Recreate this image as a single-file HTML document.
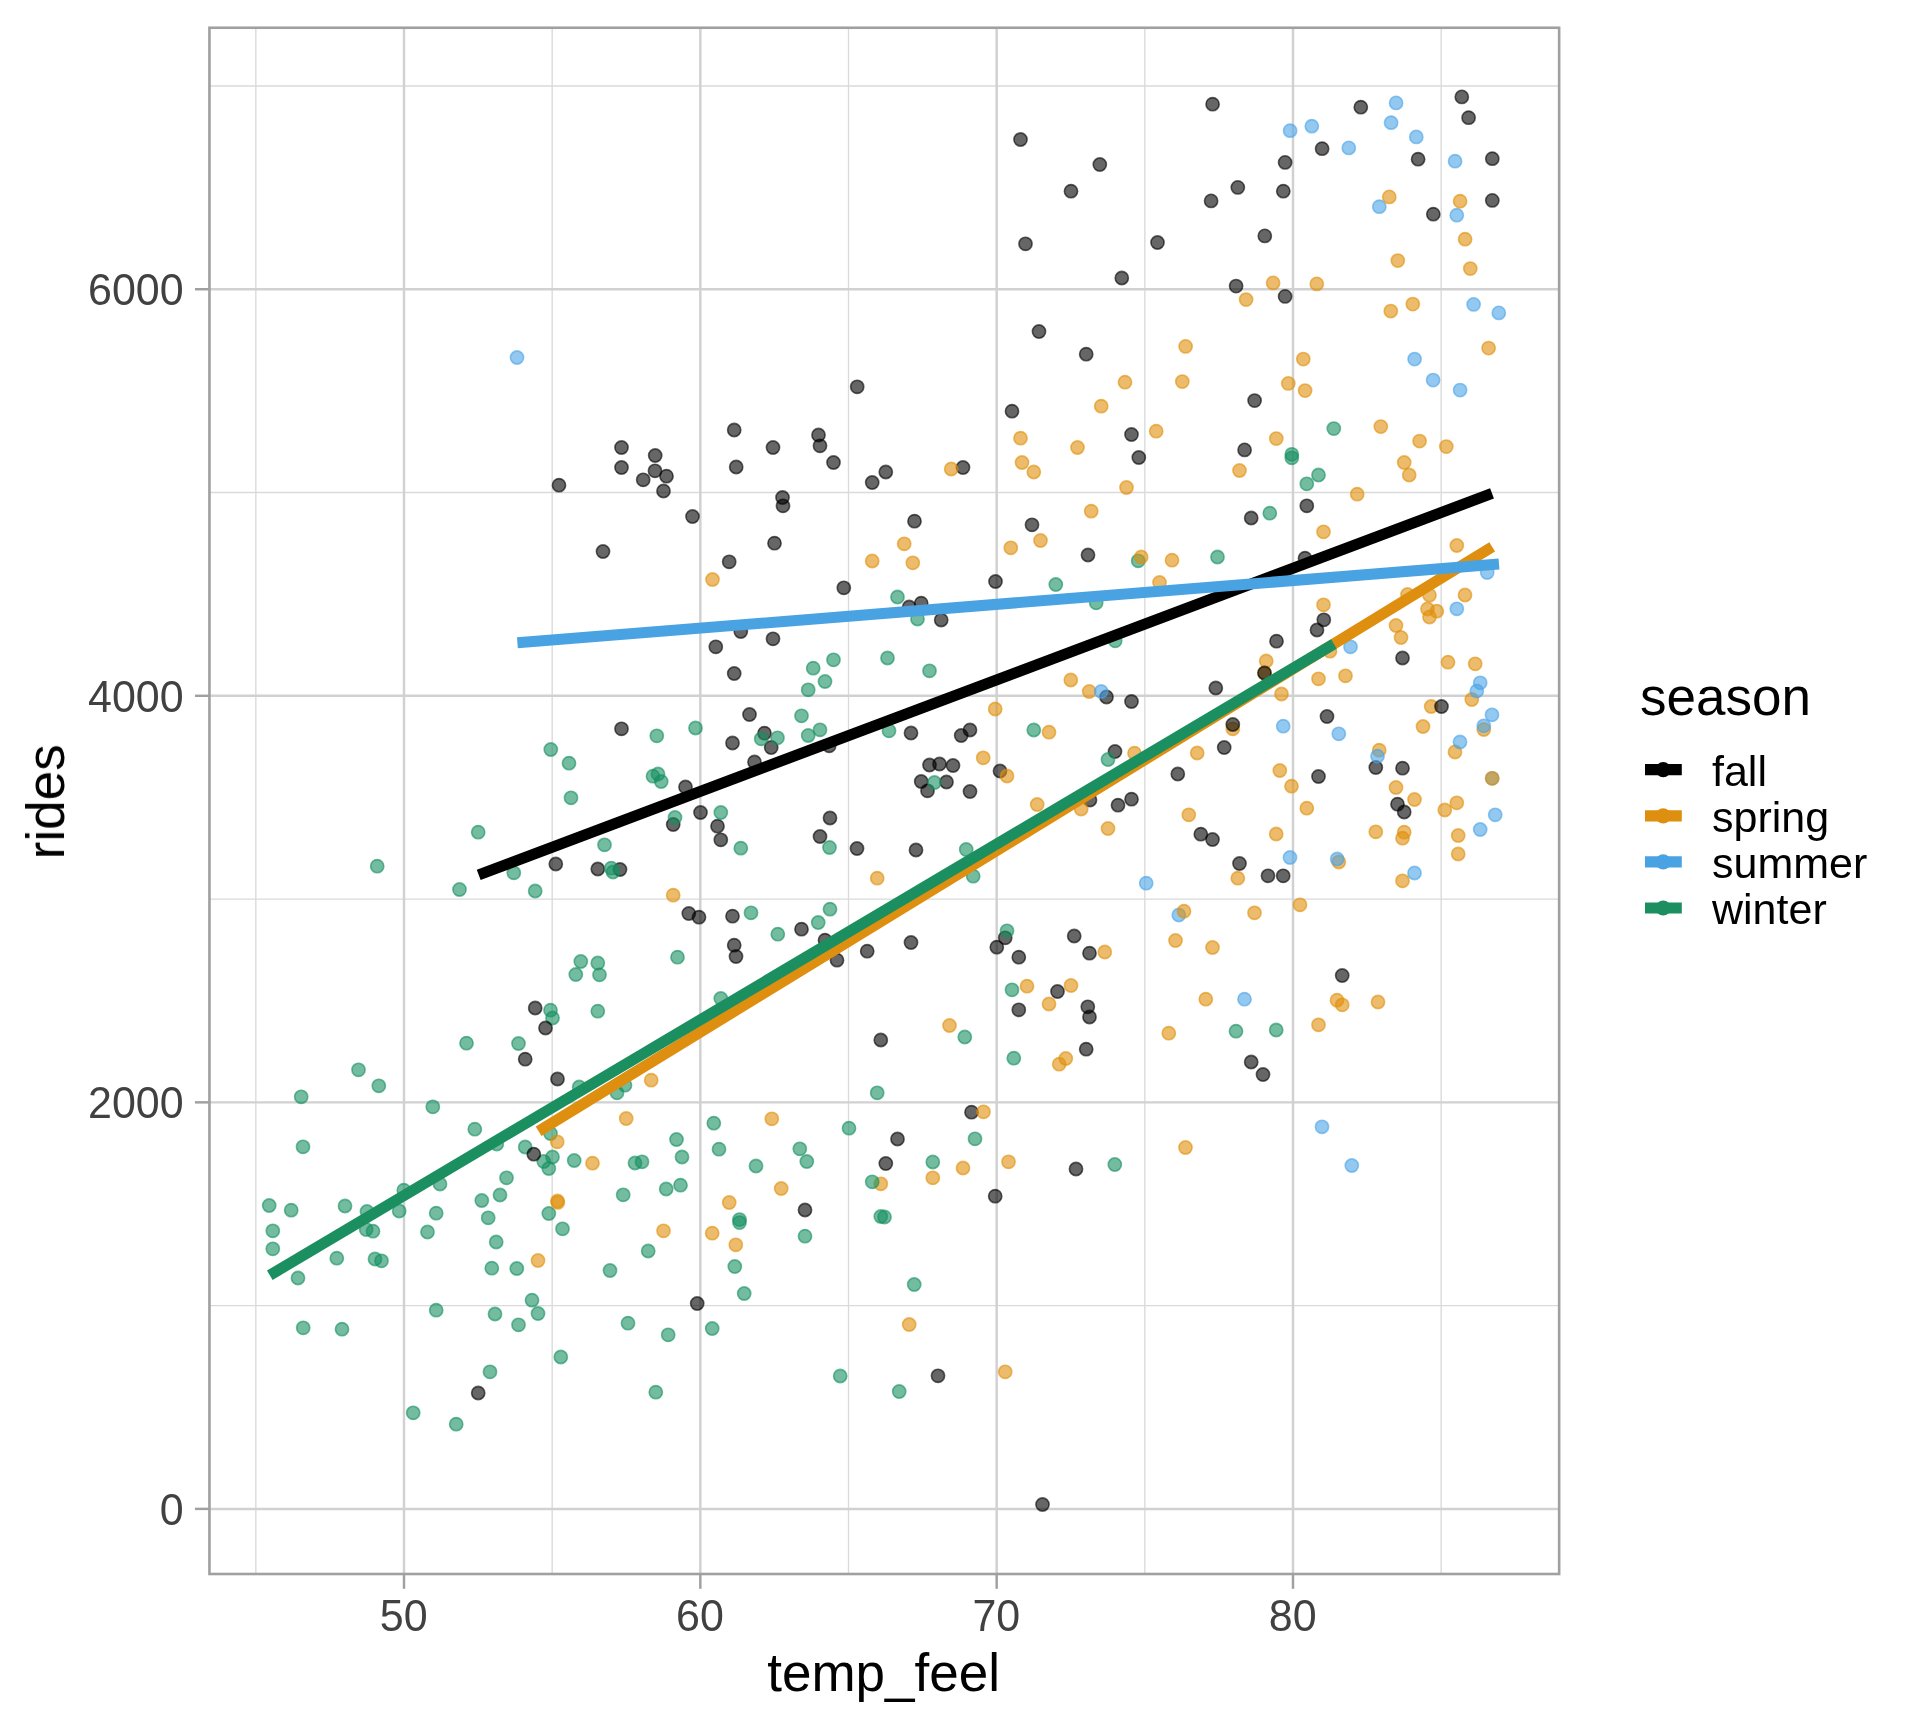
<!DOCTYPE html>
<html><head><meta charset="utf-8"><title>rides vs temp_feel</title>
<style>
html,body{margin:0;padding:0;background:#fff;}
body{width:1920px;height:1728px;overflow:hidden;font-family:"Liberation Sans",sans-serif;}
svg{display:block;position:absolute;left:0;top:0;}
text{font-family:"Liberation Sans",sans-serif;}
.ax{font-size:43px;fill:#414141;}
.ttl{font-size:53px;fill:#000;}
.lg{font-size:43px;fill:#000;}
.pk{fill:#000000;stroke:#000000;}
.po{fill:#E0900A;stroke:#E0900A;}
.pb{fill:#4BA3E6;stroke:#4BA3E6;}
.pg{fill:#169060;stroke:#169060;}
.pts circle{fill-opacity:.6;stroke-opacity:.6;stroke-width:1.6;}
</style></head><body>
<svg width="1920" height="1728" viewBox="0 0 1920 1728">
<rect x="0" y="0" width="1920" height="1728" fill="#ffffff"/>
<g stroke="#DADADA" stroke-width="1.35" fill="none">
<line x1="255.83" y1="27.75" x2="255.83" y2="1574.00"/>
<line x1="552.17" y1="27.75" x2="552.17" y2="1574.00"/>
<line x1="848.50" y1="27.75" x2="848.50" y2="1574.00"/>
<line x1="1144.83" y1="27.75" x2="1144.83" y2="1574.00"/>
<line x1="1441.17" y1="27.75" x2="1441.17" y2="1574.00"/>
<line x1="209.45" y1="1305.62" x2="1559.15" y2="1305.62"/>
<line x1="209.45" y1="899.08" x2="1559.15" y2="899.08"/>
<line x1="209.45" y1="492.53" x2="1559.15" y2="492.53"/>
<line x1="209.45" y1="85.98" x2="1559.15" y2="85.98"/>
</g>
<g stroke="#D1D1D1" stroke-width="2.45" fill="none">
<line x1="404.00" y1="27.75" x2="404.00" y2="1574.00"/>
<line x1="700.33" y1="27.75" x2="700.33" y2="1574.00"/>
<line x1="996.67" y1="27.75" x2="996.67" y2="1574.00"/>
<line x1="1293.00" y1="27.75" x2="1293.00" y2="1574.00"/>
<line x1="209.45" y1="1508.90" x2="1559.15" y2="1508.90"/>
<line x1="209.45" y1="1102.35" x2="1559.15" y2="1102.35"/>
<line x1="209.45" y1="695.80" x2="1559.15" y2="695.80"/>
<line x1="209.45" y1="289.25" x2="1559.15" y2="289.25"/>
</g>
<g class="pts">
<circle class="pb" cx="517.0" cy="357.5" r="6.6"/>
<circle class="pk" cx="621.5" cy="447.5" r="6.6"/>
<circle class="pk" cx="655.2" cy="455.5" r="6.6"/>
<circle class="pk" cx="621.5" cy="467.5" r="6.6"/>
<circle class="pk" cx="655.0" cy="470.8" r="6.6"/>
<circle class="pk" cx="666.5" cy="476.2" r="6.6"/>
<circle class="pk" cx="643.2" cy="479.8" r="6.6"/>
<circle class="pk" cx="559.0" cy="485.2" r="6.6"/>
<circle class="pk" cx="663.5" cy="491.0" r="6.6"/>
<circle class="pk" cx="603.0" cy="551.5" r="6.6"/>
<circle class="pk" cx="621.5" cy="728.8" r="6.6"/>
<circle class="pk" cx="1020.5" cy="139.5" r="6.6"/>
<circle class="pk" cx="1099.8" cy="164.5" r="6.6"/>
<circle class="pk" cx="1071.0" cy="191.2" r="6.6"/>
<circle class="pk" cx="1025.5" cy="243.8" r="6.6"/>
<circle class="pk" cx="1157.5" cy="242.5" r="6.6"/>
<circle class="pk" cx="1121.8" cy="278.0" r="6.6"/>
<circle class="pk" cx="1039.0" cy="331.5" r="6.6"/>
<circle class="pk" cx="1086.2" cy="354.2" r="6.6"/>
<circle class="pk" cx="857.2" cy="386.8" r="6.6"/>
<circle class="pk" cx="1012.0" cy="411.2" r="6.6"/>
<circle class="pk" cx="734.2" cy="430.0" r="6.6"/>
<circle class="pk" cx="818.5" cy="435.0" r="6.6"/>
<circle class="pk" cx="820.0" cy="445.8" r="6.6"/>
<circle class="pk" cx="773.0" cy="447.5" r="6.6"/>
<circle class="pk" cx="1131.5" cy="434.5" r="6.6"/>
<circle class="pk" cx="1138.8" cy="457.5" r="6.6"/>
<circle class="po" cx="1125.0" cy="382.2" r="6.6"/>
<circle class="po" cx="1101.2" cy="406.2" r="6.6"/>
<circle class="po" cx="1020.5" cy="438.2" r="6.6"/>
<circle class="po" cx="1156.2" cy="431.2" r="6.6"/>
<circle class="po" cx="1077.5" cy="447.5" r="6.6"/>
<circle class="pk" cx="1212.6" cy="104.2" r="6.6"/>
<circle class="pk" cx="1360.8" cy="107.2" r="6.6"/>
<circle class="pk" cx="1461.8" cy="96.9" r="6.6"/>
<circle class="pk" cx="1468.6" cy="117.7" r="6.6"/>
<circle class="pk" cx="1322.1" cy="148.7" r="6.6"/>
<circle class="pk" cx="1285.1" cy="162.4" r="6.6"/>
<circle class="pk" cx="1418.1" cy="159.2" r="6.6"/>
<circle class="pk" cx="1492.3" cy="158.7" r="6.6"/>
<circle class="pk" cx="1237.8" cy="187.4" r="6.6"/>
<circle class="pk" cx="1283.3" cy="191.2" r="6.6"/>
<circle class="pk" cx="1211.1" cy="200.9" r="6.6"/>
<circle class="pk" cx="1492.3" cy="200.4" r="6.6"/>
<circle class="pk" cx="1433.3" cy="214.2" r="6.6"/>
<circle class="pk" cx="1264.8" cy="235.9" r="6.6"/>
<circle class="pk" cx="1236.1" cy="286.1" r="6.6"/>
<circle class="pk" cx="1285.1" cy="296.4" r="6.6"/>
<circle class="pk" cx="1254.6" cy="400.6" r="6.6"/>
<circle class="pk" cx="1244.6" cy="449.9" r="6.6"/>
<circle class="pb" cx="1396.1" cy="102.9" r="6.6"/>
<circle class="pb" cx="1391.1" cy="122.7" r="6.6"/>
<circle class="pb" cx="1311.8" cy="126.2" r="6.6"/>
<circle class="pb" cx="1290.1" cy="130.7" r="6.6"/>
<circle class="pb" cx="1416.3" cy="136.9" r="6.6"/>
<circle class="pb" cx="1348.8" cy="147.9" r="6.6"/>
<circle class="pb" cx="1455.1" cy="161.2" r="6.6"/>
<circle class="pb" cx="1379.3" cy="206.7" r="6.6"/>
<circle class="pb" cx="1456.8" cy="215.2" r="6.6"/>
<circle class="pb" cx="1473.6" cy="304.4" r="6.6"/>
<circle class="pb" cx="1498.8" cy="312.9" r="6.6"/>
<circle class="pb" cx="1414.6" cy="359.1" r="6.6"/>
<circle class="pb" cx="1433.1" cy="380.1" r="6.6"/>
<circle class="pb" cx="1460.1" cy="390.1" r="6.6"/>
<circle class="po" cx="1389.3" cy="196.9" r="6.6"/>
<circle class="po" cx="1460.1" cy="201.2" r="6.6"/>
<circle class="po" cx="1465.1" cy="239.2" r="6.6"/>
<circle class="po" cx="1397.8" cy="260.6" r="6.6"/>
<circle class="po" cx="1470.3" cy="268.6" r="6.6"/>
<circle class="po" cx="1273.1" cy="282.9" r="6.6"/>
<circle class="po" cx="1316.8" cy="283.9" r="6.6"/>
<circle class="po" cx="1246.1" cy="299.6" r="6.6"/>
<circle class="po" cx="1412.8" cy="304.1" r="6.6"/>
<circle class="po" cx="1390.8" cy="311.1" r="6.6"/>
<circle class="po" cx="1185.6" cy="346.4" r="6.6"/>
<circle class="po" cx="1488.6" cy="348.1" r="6.6"/>
<circle class="po" cx="1303.3" cy="359.1" r="6.6"/>
<circle class="po" cx="1182.3" cy="381.6" r="6.6"/>
<circle class="po" cx="1288.3" cy="383.4" r="6.6"/>
<circle class="po" cx="1305.1" cy="390.6" r="6.6"/>
<circle class="po" cx="1380.8" cy="426.6" r="6.6"/>
<circle class="po" cx="1276.3" cy="438.6" r="6.6"/>
<circle class="po" cx="1419.6" cy="441.1" r="6.6"/>
<circle class="po" cx="1446.3" cy="446.6" r="6.6"/>
<circle class="pg" cx="1333.8" cy="428.6" r="6.6"/>
<circle class="pg" cx="1291.8" cy="454.3" r="6.6"/>
<circle class="pg" cx="1291.8" cy="457.8" r="6.6"/>
<circle class="pk" cx="673.2" cy="824.5" r="6.6"/>
<circle class="pk" cx="555.8" cy="864.0" r="6.6"/>
<circle class="pk" cx="597.8" cy="869.0" r="6.6"/>
<circle class="pk" cx="620.0" cy="869.5" r="6.6"/>
<circle class="pg" cx="656.8" cy="735.8" r="6.6"/>
<circle class="pg" cx="550.8" cy="749.5" r="6.6"/>
<circle class="pg" cx="569.0" cy="763.2" r="6.6"/>
<circle class="pg" cx="653.0" cy="776.2" r="6.6"/>
<circle class="pg" cx="658.0" cy="774.0" r="6.6"/>
<circle class="pg" cx="661.2" cy="781.5" r="6.6"/>
<circle class="pg" cx="571.0" cy="797.8" r="6.6"/>
<circle class="pg" cx="675.0" cy="817.5" r="6.6"/>
<circle class="pg" cx="478.2" cy="832.2" r="6.6"/>
<circle class="pg" cx="604.5" cy="844.8" r="6.6"/>
<circle class="pg" cx="377.2" cy="866.2" r="6.6"/>
<circle class="pg" cx="513.8" cy="872.8" r="6.6"/>
<circle class="pg" cx="611.2" cy="868.2" r="6.6"/>
<circle class="pg" cx="613.0" cy="872.0" r="6.6"/>
<circle class="pk" cx="736.2" cy="467.0" r="6.6"/>
<circle class="pk" cx="833.5" cy="462.5" r="6.6"/>
<circle class="pk" cx="885.8" cy="472.0" r="6.6"/>
<circle class="pk" cx="872.2" cy="482.5" r="6.6"/>
<circle class="pk" cx="963.0" cy="467.5" r="6.6"/>
<circle class="pk" cx="782.5" cy="497.5" r="6.6"/>
<circle class="pk" cx="783.0" cy="505.8" r="6.6"/>
<circle class="pk" cx="692.5" cy="516.5" r="6.6"/>
<circle class="pk" cx="914.5" cy="521.2" r="6.6"/>
<circle class="pk" cx="1032.0" cy="524.8" r="6.6"/>
<circle class="pk" cx="774.5" cy="543.2" r="6.6"/>
<circle class="pk" cx="1088.0" cy="555.0" r="6.6"/>
<circle class="pk" cx="729.2" cy="561.8" r="6.6"/>
<circle class="pk" cx="995.5" cy="581.5" r="6.6"/>
<circle class="pk" cx="843.8" cy="587.8" r="6.6"/>
<circle class="pk" cx="909.2" cy="607.0" r="6.6"/>
<circle class="pk" cx="921.2" cy="603.2" r="6.6"/>
<circle class="pk" cx="941.2" cy="620.0" r="6.6"/>
<circle class="pk" cx="740.8" cy="631.5" r="6.6"/>
<circle class="pk" cx="773.0" cy="638.8" r="6.6"/>
<circle class="pk" cx="715.8" cy="646.8" r="6.6"/>
<circle class="pk" cx="734.2" cy="673.5" r="6.6"/>
<circle class="pk" cx="749.5" cy="714.5" r="6.6"/>
<circle class="pk" cx="764.5" cy="733.2" r="6.6"/>
<circle class="pk" cx="732.5" cy="743.0" r="6.6"/>
<circle class="pk" cx="771.2" cy="747.5" r="6.6"/>
<circle class="pk" cx="829.2" cy="745.8" r="6.6"/>
<circle class="pk" cx="754.5" cy="762.0" r="6.6"/>
<circle class="pk" cx="911.0" cy="733.0" r="6.6"/>
<circle class="pk" cx="961.2" cy="735.5" r="6.6"/>
<circle class="pk" cx="970.0" cy="730.0" r="6.6"/>
<circle class="pk" cx="1106.5" cy="697.0" r="6.6"/>
<circle class="pk" cx="1131.5" cy="701.5" r="6.6"/>
<circle class="pk" cx="929.5" cy="765.0" r="6.6"/>
<circle class="pk" cx="939.5" cy="764.0" r="6.6"/>
<circle class="pk" cx="953.0" cy="765.5" r="6.6"/>
<circle class="pk" cx="1000.0" cy="771.0" r="6.6"/>
<circle class="pk" cx="921.2" cy="781.5" r="6.6"/>
<circle class="pk" cx="946.5" cy="782.0" r="6.6"/>
<circle class="pk" cx="927.5" cy="790.8" r="6.6"/>
<circle class="pk" cx="970.0" cy="791.5" r="6.6"/>
<circle class="pk" cx="1115.0" cy="751.5" r="6.6"/>
<circle class="pk" cx="1090.0" cy="800.0" r="6.6"/>
<circle class="pk" cx="1118.0" cy="805.2" r="6.6"/>
<circle class="pk" cx="1131.5" cy="799.2" r="6.6"/>
<circle class="pk" cx="685.5" cy="787.0" r="6.6"/>
<circle class="pk" cx="700.5" cy="812.5" r="6.6"/>
<circle class="pk" cx="717.5" cy="826.2" r="6.6"/>
<circle class="pk" cx="720.8" cy="839.8" r="6.6"/>
<circle class="pk" cx="830.0" cy="818.0" r="6.6"/>
<circle class="pk" cx="820.0" cy="836.5" r="6.6"/>
<circle class="pk" cx="857.0" cy="848.5" r="6.6"/>
<circle class="pk" cx="916.0" cy="850.0" r="6.6"/>
<circle class="po" cx="951.2" cy="469.0" r="6.6"/>
<circle class="po" cx="1022.0" cy="462.5" r="6.6"/>
<circle class="po" cx="1033.8" cy="472.0" r="6.6"/>
<circle class="po" cx="1126.5" cy="487.5" r="6.6"/>
<circle class="po" cx="1091.2" cy="511.2" r="6.6"/>
<circle class="po" cx="904.2" cy="543.8" r="6.6"/>
<circle class="po" cx="1040.5" cy="540.5" r="6.6"/>
<circle class="po" cx="1010.8" cy="547.8" r="6.6"/>
<circle class="po" cx="872.2" cy="561.0" r="6.6"/>
<circle class="po" cx="912.8" cy="562.8" r="6.6"/>
<circle class="po" cx="712.5" cy="579.5" r="6.6"/>
<circle class="po" cx="1159.5" cy="582.5" r="6.6"/>
<circle class="po" cx="1070.8" cy="680.0" r="6.6"/>
<circle class="po" cx="1089.2" cy="691.5" r="6.6"/>
<circle class="po" cx="995.2" cy="709.0" r="6.6"/>
<circle class="po" cx="1049.0" cy="732.2" r="6.6"/>
<circle class="po" cx="983.2" cy="757.8" r="6.6"/>
<circle class="po" cx="1007.0" cy="776.0" r="6.6"/>
<circle class="po" cx="1134.5" cy="753.2" r="6.6"/>
<circle class="po" cx="1037.2" cy="804.5" r="6.6"/>
<circle class="po" cx="1081.2" cy="809.0" r="6.6"/>
<circle class="po" cx="1108.0" cy="828.5" r="6.6"/>
<circle class="po" cx="877.2" cy="878.2" r="6.6"/>
<circle class="pg" cx="1138.2" cy="560.8" r="6.6"/>
<circle class="po" cx="1141.2" cy="557.0" r="6.6"/>
<circle class="pg" cx="1055.8" cy="584.5" r="6.6"/>
<circle class="pg" cx="897.5" cy="597.0" r="6.6"/>
<circle class="pg" cx="1096.2" cy="602.8" r="6.6"/>
<circle class="pg" cx="917.5" cy="619.0" r="6.6"/>
<circle class="pg" cx="1115.2" cy="640.8" r="6.6"/>
<circle class="pg" cx="833.5" cy="659.8" r="6.6"/>
<circle class="pg" cx="813.2" cy="668.2" r="6.6"/>
<circle class="pg" cx="887.5" cy="658.0" r="6.6"/>
<circle class="pg" cx="929.5" cy="670.8" r="6.6"/>
<circle class="pg" cx="825.0" cy="681.5" r="6.6"/>
<circle class="pg" cx="808.2" cy="689.8" r="6.6"/>
<circle class="pg" cx="801.5" cy="715.8" r="6.6"/>
<circle class="pg" cx="695.5" cy="728.0" r="6.6"/>
<circle class="pg" cx="820.0" cy="729.8" r="6.6"/>
<circle class="pg" cx="808.2" cy="735.5" r="6.6"/>
<circle class="pg" cx="777.5" cy="737.8" r="6.6"/>
<circle class="pg" cx="761.2" cy="738.8" r="6.6"/>
<circle class="pg" cx="889.0" cy="730.8" r="6.6"/>
<circle class="pg" cx="1033.8" cy="730.0" r="6.6"/>
<circle class="pg" cx="1108.0" cy="759.5" r="6.6"/>
<circle class="pg" cx="934.5" cy="782.5" r="6.6"/>
<circle class="pg" cx="720.8" cy="812.5" r="6.6"/>
<circle class="pg" cx="740.8" cy="848.2" r="6.6"/>
<circle class="pg" cx="829.5" cy="847.5" r="6.6"/>
<circle class="pg" cx="966.2" cy="849.5" r="6.6"/>
<circle class="pg" cx="973.2" cy="876.2" r="6.6"/>
<circle class="pb" cx="1101.2" cy="691.5" r="6.6"/>
<circle class="pb" cx="1146.2" cy="883.2" r="6.6"/>
<circle class="po" cx="1239.5" cy="470.5" r="6.6"/>
<circle class="po" cx="1404.2" cy="462.5" r="6.6"/>
<circle class="po" cx="1409.2" cy="475.0" r="6.6"/>
<circle class="po" cx="1357.2" cy="494.2" r="6.6"/>
<circle class="po" cx="1323.5" cy="531.8" r="6.6"/>
<circle class="po" cx="1456.8" cy="545.5" r="6.6"/>
<circle class="po" cx="1172.0" cy="560.2" r="6.6"/>
<circle class="po" cx="1323.5" cy="604.8" r="6.6"/>
<circle class="po" cx="1407.5" cy="594.5" r="6.6"/>
<circle class="po" cx="1429.5" cy="595.2" r="6.6"/>
<circle class="po" cx="1465.0" cy="595.0" r="6.6"/>
<circle class="po" cx="1427.5" cy="609.0" r="6.6"/>
<circle class="po" cx="1436.8" cy="611.2" r="6.6"/>
<circle class="po" cx="1429.5" cy="617.0" r="6.6"/>
<circle class="po" cx="1396.0" cy="625.5" r="6.6"/>
<circle class="po" cx="1401.0" cy="637.5" r="6.6"/>
<circle class="po" cx="1330.0" cy="651.2" r="6.6"/>
<circle class="po" cx="1266.2" cy="661.0" r="6.6"/>
<circle class="po" cx="1448.0" cy="662.2" r="6.6"/>
<circle class="po" cx="1475.2" cy="663.8" r="6.6"/>
<circle class="po" cx="1318.5" cy="678.8" r="6.6"/>
<circle class="po" cx="1345.5" cy="675.8" r="6.6"/>
<circle class="po" cx="1281.5" cy="694.0" r="6.6"/>
<circle class="po" cx="1471.8" cy="699.5" r="6.6"/>
<circle class="po" cx="1431.2" cy="706.5" r="6.6"/>
<circle class="po" cx="1423.0" cy="726.5" r="6.6"/>
<circle class="po" cx="1232.8" cy="728.8" r="6.6"/>
<circle class="po" cx="1483.8" cy="729.5" r="6.6"/>
<circle class="po" cx="1197.2" cy="753.0" r="6.6"/>
<circle class="po" cx="1379.2" cy="750.2" r="6.6"/>
<circle class="po" cx="1455.0" cy="752.0" r="6.6"/>
<circle class="po" cx="1279.8" cy="770.5" r="6.6"/>
<circle class="pb" cx="1492.2" cy="778.3" r="6.6"/>
<circle class="po" cx="1492.2" cy="778.3" r="6.6"/>
<circle class="po" cx="1291.5" cy="786.2" r="6.6"/>
<circle class="po" cx="1396.0" cy="787.5" r="6.6"/>
<circle class="po" cx="1414.5" cy="799.5" r="6.6"/>
<circle class="po" cx="1456.8" cy="802.8" r="6.6"/>
<circle class="po" cx="1306.8" cy="808.2" r="6.6"/>
<circle class="po" cx="1444.8" cy="810.0" r="6.6"/>
<circle class="po" cx="1188.8" cy="814.8" r="6.6"/>
<circle class="po" cx="1276.2" cy="834.0" r="6.6"/>
<circle class="po" cx="1375.8" cy="831.8" r="6.6"/>
<circle class="po" cx="1404.2" cy="832.2" r="6.6"/>
<circle class="po" cx="1402.5" cy="838.2" r="6.6"/>
<circle class="po" cx="1458.2" cy="835.5" r="6.6"/>
<circle class="po" cx="1458.2" cy="854.0" r="6.6"/>
<circle class="po" cx="1338.8" cy="862.0" r="6.6"/>
<circle class="po" cx="1237.8" cy="878.2" r="6.6"/>
<circle class="po" cx="1402.5" cy="880.8" r="6.6"/>
<circle class="po" cx="1264.5" cy="673.0" r="6.6"/>
<circle class="pk" cx="1306.8" cy="505.8" r="6.6"/>
<circle class="pk" cx="1251.2" cy="518.0" r="6.6"/>
<circle class="pk" cx="1305.0" cy="558.2" r="6.6"/>
<circle class="pk" cx="1323.8" cy="619.8" r="6.6"/>
<circle class="pk" cx="1317.0" cy="630.0" r="6.6"/>
<circle class="pk" cx="1276.5" cy="641.2" r="6.6"/>
<circle class="pk" cx="1402.5" cy="658.0" r="6.6"/>
<circle class="pk" cx="1264.5" cy="673.0" r="6.6"/>
<circle class="pk" cx="1215.8" cy="688.0" r="6.6"/>
<circle class="pk" cx="1327.0" cy="716.5" r="6.6"/>
<circle class="pk" cx="1441.5" cy="706.5" r="6.6"/>
<circle class="pk" cx="1232.8" cy="724.5" r="6.6"/>
<circle class="pk" cx="1224.2" cy="747.5" r="6.6"/>
<circle class="pk" cx="1177.8" cy="774.0" r="6.6"/>
<circle class="pk" cx="1375.8" cy="767.5" r="6.6"/>
<circle class="pk" cx="1402.5" cy="768.2" r="6.6"/>
<circle class="pk" cx="1318.5" cy="776.5" r="6.6"/>
<circle class="pk" cx="1397.5" cy="804.2" r="6.6"/>
<circle class="pk" cx="1404.2" cy="812.0" r="6.6"/>
<circle class="pk" cx="1200.8" cy="834.2" r="6.6"/>
<circle class="pk" cx="1212.5" cy="839.5" r="6.6"/>
<circle class="pk" cx="1239.5" cy="863.5" r="6.6"/>
<circle class="pk" cx="1268.0" cy="875.8" r="6.6"/>
<circle class="pk" cx="1283.2" cy="875.8" r="6.6"/>
<circle class="pg" cx="1318.5" cy="475.0" r="6.6"/>
<circle class="pg" cx="1306.8" cy="483.8" r="6.6"/>
<circle class="pg" cx="1269.8" cy="513.2" r="6.6"/>
<circle class="pg" cx="1217.5" cy="557.0" r="6.6"/>
<circle class="pb" cx="1487.2" cy="572.5" r="6.6"/>
<circle class="pb" cx="1456.8" cy="608.8" r="6.6"/>
<circle class="pb" cx="1350.5" cy="646.8" r="6.6"/>
<circle class="pb" cx="1480.2" cy="682.8" r="6.6"/>
<circle class="pb" cx="1476.8" cy="691.0" r="6.6"/>
<circle class="pb" cx="1492.0" cy="714.8" r="6.6"/>
<circle class="pb" cx="1483.8" cy="725.8" r="6.6"/>
<circle class="pb" cx="1283.2" cy="726.2" r="6.6"/>
<circle class="pb" cx="1338.8" cy="733.8" r="6.6"/>
<circle class="pb" cx="1460.0" cy="742.0" r="6.6"/>
<circle class="pb" cx="1377.5" cy="756.2" r="6.6"/>
<circle class="pb" cx="1495.2" cy="814.8" r="6.6"/>
<circle class="pb" cx="1480.2" cy="829.5" r="6.6"/>
<circle class="pb" cx="1290.0" cy="857.5" r="6.6"/>
<circle class="pb" cx="1337.2" cy="859.0" r="6.6"/>
<circle class="pb" cx="1414.5" cy="873.0" r="6.6"/>
<circle class="pg" cx="459.5" cy="889.5" r="6.6"/>
<circle class="pg" cx="535.2" cy="891.0" r="6.6"/>
<circle class="po" cx="673.2" cy="895.2" r="6.6"/>
<circle class="pg" cx="677.5" cy="957.2" r="6.6"/>
<circle class="pg" cx="580.8" cy="961.5" r="6.6"/>
<circle class="pg" cx="597.8" cy="963.0" r="6.6"/>
<circle class="pg" cx="575.8" cy="974.5" r="6.6"/>
<circle class="pg" cx="599.5" cy="974.8" r="6.6"/>
<circle class="pg" cx="550.5" cy="1010.2" r="6.6"/>
<circle class="pg" cx="552.5" cy="1018.0" r="6.6"/>
<circle class="pg" cx="597.8" cy="1011.2" r="6.6"/>
<circle class="pg" cx="466.5" cy="1043.2" r="6.6"/>
<circle class="pg" cx="518.5" cy="1043.5" r="6.6"/>
<circle class="pg" cx="358.5" cy="1069.8" r="6.6"/>
<circle class="pg" cx="378.8" cy="1085.8" r="6.6"/>
<circle class="pg" cx="301.2" cy="1096.8" r="6.6"/>
<circle class="pg" cx="579.2" cy="1087.0" r="6.6"/>
<circle class="pg" cx="625.0" cy="1085.2" r="6.6"/>
<circle class="pg" cx="617.0" cy="1092.8" r="6.6"/>
<circle class="pg" cx="432.8" cy="1106.8" r="6.6"/>
<circle class="pg" cx="474.8" cy="1129.2" r="6.6"/>
<circle class="pg" cx="550.5" cy="1133.5" r="6.6"/>
<circle class="pg" cx="303.0" cy="1146.8" r="6.6"/>
<circle class="pg" cx="496.8" cy="1144.0" r="6.6"/>
<circle class="pg" cx="525.2" cy="1147.0" r="6.6"/>
<circle class="pg" cx="676.5" cy="1139.5" r="6.6"/>
<circle class="pg" cx="552.5" cy="1157.0" r="6.6"/>
<circle class="pg" cx="543.8" cy="1161.5" r="6.6"/>
<circle class="pg" cx="548.8" cy="1168.5" r="6.6"/>
<circle class="pg" cx="574.2" cy="1160.5" r="6.6"/>
<circle class="pg" cx="635.0" cy="1163.0" r="6.6"/>
<circle class="pg" cx="642.0" cy="1161.8" r="6.6"/>
<circle class="pg" cx="682.0" cy="1157.0" r="6.6"/>
<circle class="pg" cx="506.5" cy="1177.8" r="6.6"/>
<circle class="pg" cx="440.0" cy="1184.0" r="6.6"/>
<circle class="pg" cx="403.8" cy="1190.2" r="6.6"/>
<circle class="pg" cx="500.0" cy="1195.0" r="6.6"/>
<circle class="pg" cx="481.8" cy="1200.5" r="6.6"/>
<circle class="pg" cx="623.2" cy="1194.8" r="6.6"/>
<circle class="pg" cx="666.2" cy="1189.0" r="6.6"/>
<circle class="pg" cx="680.5" cy="1185.2" r="6.6"/>
<circle class="pg" cx="269.2" cy="1205.5" r="6.6"/>
<circle class="pg" cx="291.2" cy="1210.2" r="6.6"/>
<circle class="pg" cx="345.0" cy="1206.0" r="6.6"/>
<circle class="pg" cx="367.0" cy="1211.5" r="6.6"/>
<circle class="pg" cx="399.2" cy="1211.0" r="6.6"/>
<circle class="pg" cx="436.2" cy="1213.2" r="6.6"/>
<circle class="pg" cx="488.2" cy="1217.8" r="6.6"/>
<circle class="pg" cx="548.8" cy="1213.5" r="6.6"/>
<circle class="pg" cx="272.8" cy="1230.8" r="6.6"/>
<circle class="pg" cx="366.2" cy="1229.5" r="6.6"/>
<circle class="pg" cx="373.0" cy="1231.2" r="6.6"/>
<circle class="pg" cx="427.5" cy="1232.0" r="6.6"/>
<circle class="pg" cx="562.5" cy="1228.8" r="6.6"/>
<circle class="pg" cx="496.2" cy="1242.0" r="6.6"/>
<circle class="pg" cx="272.8" cy="1248.8" r="6.6"/>
<circle class="pg" cx="336.8" cy="1258.2" r="6.6"/>
<circle class="pg" cx="375.0" cy="1259.0" r="6.6"/>
<circle class="pg" cx="381.5" cy="1260.8" r="6.6"/>
<circle class="pg" cx="648.2" cy="1251.0" r="6.6"/>
<circle class="pg" cx="491.8" cy="1268.2" r="6.6"/>
<circle class="pg" cx="516.8" cy="1268.5" r="6.6"/>
<circle class="pg" cx="610.0" cy="1270.5" r="6.6"/>
<circle class="pg" cx="298.0" cy="1278.0" r="6.6"/>
<circle class="pg" cx="532.0" cy="1300.2" r="6.6"/>
<circle class="pg" cx="436.2" cy="1310.2" r="6.6"/>
<circle class="pg" cx="495.0" cy="1314.0" r="6.6"/>
<circle class="pg" cx="538.0" cy="1313.5" r="6.6"/>
<circle class="pk" cx="535.2" cy="1008.0" r="6.6"/>
<circle class="pk" cx="545.5" cy="1028.0" r="6.6"/>
<circle class="pk" cx="525.2" cy="1059.2" r="6.6"/>
<circle class="pk" cx="557.5" cy="1079.0" r="6.6"/>
<circle class="pk" cx="533.8" cy="1154.2" r="6.6"/>
<circle class="po" cx="651.2" cy="1080.2" r="6.6"/>
<circle class="po" cx="626.2" cy="1118.5" r="6.6"/>
<circle class="po" cx="557.2" cy="1141.8" r="6.6"/>
<circle class="po" cx="592.5" cy="1163.2" r="6.6"/>
<circle class="po" cx="557.5" cy="1201.0" r="6.6"/>
<circle class="po" cx="557.8" cy="1202.4" r="6.6"/>
<circle class="po" cx="663.5" cy="1230.8" r="6.6"/>
<circle class="po" cx="538.0" cy="1260.5" r="6.6"/>
<circle class="pk" cx="688.8" cy="913.5" r="6.6"/>
<circle class="pk" cx="699.0" cy="917.2" r="6.6"/>
<circle class="pk" cx="732.5" cy="916.2" r="6.6"/>
<circle class="pk" cx="801.5" cy="929.2" r="6.6"/>
<circle class="pk" cx="825.0" cy="940.2" r="6.6"/>
<circle class="pk" cx="734.2" cy="945.2" r="6.6"/>
<circle class="pk" cx="736.0" cy="956.5" r="6.6"/>
<circle class="pk" cx="837.0" cy="960.2" r="6.6"/>
<circle class="pk" cx="867.2" cy="951.2" r="6.6"/>
<circle class="pk" cx="911.0" cy="942.5" r="6.6"/>
<circle class="pk" cx="1005.2" cy="937.8" r="6.6"/>
<circle class="pk" cx="996.8" cy="947.2" r="6.6"/>
<circle class="pk" cx="1018.8" cy="957.2" r="6.6"/>
<circle class="pk" cx="1074.2" cy="936.0" r="6.6"/>
<circle class="pk" cx="1089.5" cy="953.2" r="6.6"/>
<circle class="pk" cx="1057.5" cy="991.5" r="6.6"/>
<circle class="pk" cx="1018.8" cy="1009.8" r="6.6"/>
<circle class="pk" cx="1087.8" cy="1006.8" r="6.6"/>
<circle class="pk" cx="1089.5" cy="1017.0" r="6.6"/>
<circle class="pk" cx="880.8" cy="1040.0" r="6.6"/>
<circle class="pk" cx="1086.2" cy="1049.2" r="6.6"/>
<circle class="pk" cx="971.5" cy="1112.2" r="6.6"/>
<circle class="pk" cx="897.5" cy="1139.0" r="6.6"/>
<circle class="pk" cx="885.8" cy="1163.5" r="6.6"/>
<circle class="pk" cx="1076.0" cy="1169.0" r="6.6"/>
<circle class="pk" cx="995.2" cy="1196.2" r="6.6"/>
<circle class="pk" cx="805.0" cy="1210.0" r="6.6"/>
<circle class="pk" cx="697.2" cy="1303.5" r="6.6"/>
<circle class="pg" cx="751.0" cy="912.8" r="6.6"/>
<circle class="pg" cx="830.0" cy="909.2" r="6.6"/>
<circle class="pg" cx="818.2" cy="922.5" r="6.6"/>
<circle class="pg" cx="777.8" cy="934.2" r="6.6"/>
<circle class="pg" cx="1007.0" cy="930.8" r="6.6"/>
<circle class="pg" cx="720.8" cy="998.5" r="6.6"/>
<circle class="pg" cx="1012.0" cy="989.8" r="6.6"/>
<circle class="pg" cx="964.8" cy="1037.0" r="6.6"/>
<circle class="pg" cx="1013.8" cy="1058.2" r="6.6"/>
<circle class="pg" cx="877.2" cy="1092.8" r="6.6"/>
<circle class="pg" cx="713.8" cy="1123.2" r="6.6"/>
<circle class="pg" cx="849.0" cy="1128.2" r="6.6"/>
<circle class="pg" cx="975.0" cy="1138.8" r="6.6"/>
<circle class="pg" cx="719.0" cy="1149.2" r="6.6"/>
<circle class="pg" cx="799.8" cy="1148.8" r="6.6"/>
<circle class="pg" cx="806.8" cy="1161.5" r="6.6"/>
<circle class="pg" cx="756.0" cy="1166.0" r="6.6"/>
<circle class="pg" cx="932.8" cy="1162.0" r="6.6"/>
<circle class="pg" cx="1114.8" cy="1164.5" r="6.6"/>
<circle class="pg" cx="739.5" cy="1219.6" r="6.6"/>
<circle class="pg" cx="739.5" cy="1222.6" r="6.6"/>
<circle class="pg" cx="880.8" cy="1216.5" r="6.6"/>
<circle class="pg" cx="884.5" cy="1217.0" r="6.6"/>
<circle class="pg" cx="805.0" cy="1236.2" r="6.6"/>
<circle class="pg" cx="734.8" cy="1266.5" r="6.6"/>
<circle class="pg" cx="914.2" cy="1284.5" r="6.6"/>
<circle class="pg" cx="744.2" cy="1293.5" r="6.6"/>
<circle class="po" cx="1104.8" cy="952.0" r="6.6"/>
<circle class="po" cx="1027.0" cy="986.2" r="6.6"/>
<circle class="po" cx="1071.0" cy="985.5" r="6.6"/>
<circle class="po" cx="1049.0" cy="1004.0" r="6.6"/>
<circle class="po" cx="949.5" cy="1025.5" r="6.6"/>
<circle class="po" cx="1065.8" cy="1058.5" r="6.6"/>
<circle class="po" cx="1059.2" cy="1064.2" r="6.6"/>
<circle class="po" cx="983.5" cy="1111.8" r="6.6"/>
<circle class="po" cx="771.8" cy="1118.8" r="6.6"/>
<circle class="po" cx="1008.5" cy="1161.8" r="6.6"/>
<circle class="po" cx="963.0" cy="1168.0" r="6.6"/>
<circle class="po" cx="932.8" cy="1177.8" r="6.6"/>
<circle class="po" cx="880.8" cy="1183.8" r="6.6"/>
<circle class="pg" cx="872.2" cy="1181.8" r="6.6"/>
<circle class="po" cx="781.2" cy="1188.5" r="6.6"/>
<circle class="po" cx="729.2" cy="1202.5" r="6.6"/>
<circle class="po" cx="712.2" cy="1233.2" r="6.6"/>
<circle class="po" cx="735.8" cy="1244.8" r="6.6"/>
<circle class="po" cx="1300.0" cy="904.8" r="6.6"/>
<circle class="pb" cx="1178.8" cy="915.0" r="6.6"/>
<circle class="po" cx="1184.0" cy="911.2" r="6.6"/>
<circle class="po" cx="1254.5" cy="912.8" r="6.6"/>
<circle class="po" cx="1175.5" cy="940.5" r="6.6"/>
<circle class="po" cx="1212.5" cy="947.5" r="6.6"/>
<circle class="po" cx="1205.8" cy="999.2" r="6.6"/>
<circle class="po" cx="1337.0" cy="1000.2" r="6.6"/>
<circle class="po" cx="1342.2" cy="1004.8" r="6.6"/>
<circle class="po" cx="1378.0" cy="1002.0" r="6.6"/>
<circle class="po" cx="1318.5" cy="1024.8" r="6.6"/>
<circle class="po" cx="1168.8" cy="1033.2" r="6.6"/>
<circle class="po" cx="1185.5" cy="1147.5" r="6.6"/>
<circle class="pb" cx="1244.5" cy="999.2" r="6.6"/>
<circle class="pb" cx="1322.0" cy="1126.8" r="6.6"/>
<circle class="pb" cx="1351.8" cy="1165.5" r="6.6"/>
<circle class="pg" cx="1236.0" cy="1031.2" r="6.6"/>
<circle class="pg" cx="1276.2" cy="1030.0" r="6.6"/>
<circle class="pk" cx="1342.2" cy="975.5" r="6.6"/>
<circle class="pk" cx="1251.2" cy="1062.0" r="6.6"/>
<circle class="pk" cx="1263.0" cy="1074.5" r="6.6"/>
<circle class="pg" cx="303.2" cy="1327.8" r="6.6"/>
<circle class="pg" cx="342.0" cy="1329.2" r="6.6"/>
<circle class="pg" cx="518.5" cy="1324.8" r="6.6"/>
<circle class="pg" cx="628.0" cy="1323.2" r="6.6"/>
<circle class="pg" cx="668.2" cy="1334.8" r="6.6"/>
<circle class="pg" cx="560.8" cy="1357.0" r="6.6"/>
<circle class="pg" cx="490.0" cy="1371.8" r="6.6"/>
<circle class="pg" cx="655.8" cy="1392.2" r="6.6"/>
<circle class="pg" cx="413.2" cy="1412.8" r="6.6"/>
<circle class="pg" cx="456.2" cy="1424.2" r="6.6"/>
<circle class="pk" cx="478.2" cy="1393.0" r="6.6"/>
<circle class="pg" cx="712.2" cy="1328.5" r="6.6"/>
<circle class="po" cx="909.2" cy="1324.5" r="6.6"/>
<circle class="pg" cx="840.2" cy="1376.0" r="6.6"/>
<circle class="pg" cx="899.2" cy="1391.5" r="6.6"/>
<circle class="pk" cx="938.0" cy="1375.8" r="6.6"/>
<circle class="po" cx="1005.2" cy="1371.8" r="6.6"/>
<circle class="pk" cx="1042.5" cy="1504.5" r="6.6"/>
</g>
<g fill="none" stroke-width="11" stroke-linecap="butt">
<line x1="478.7" y1="874.8" x2="1492.0" y2="493.4" stroke="#000000"/>
<line x1="538.6" y1="1131.2" x2="1492.2" y2="546.9" stroke="#DE8F0F"/>
<line x1="517.4" y1="642.8" x2="1499.0" y2="564.0" stroke="#49A3E2"/>
<line x1="269.8" y1="1275.2" x2="1333.9" y2="644.0" stroke="#1B8F60"/>
</g>
<rect x="209.45" y="27.75" width="1349.70" height="1546.25" fill="none" stroke="#A0A0A0" stroke-width="2.6"/>
<g stroke="#A0A0A0" stroke-width="2.45">
<line x1="404.00" y1="1574.00" x2="404.00" y2="1588.80"/>
<line x1="700.33" y1="1574.00" x2="700.33" y2="1588.80"/>
<line x1="996.67" y1="1574.00" x2="996.67" y2="1588.80"/>
<line x1="1293.00" y1="1574.00" x2="1293.00" y2="1588.80"/>
<line x1="194.95" y1="1508.90" x2="209.45" y2="1508.90"/>
<line x1="194.95" y1="1102.35" x2="209.45" y2="1102.35"/>
<line x1="194.95" y1="695.80" x2="209.45" y2="695.80"/>
<line x1="194.95" y1="289.25" x2="209.45" y2="289.25"/>
</g>
<g style="opacity:0.999">
<text class="ax" transform="translate(403.70,1631.0) scale(1,1.045)" text-anchor="middle">50</text>
<text class="ax" transform="translate(700.03,1631.0) scale(1,1.045)" text-anchor="middle">60</text>
<text class="ax" transform="translate(996.37,1631.0) scale(1,1.045)" text-anchor="middle">70</text>
<text class="ax" transform="translate(1292.70,1631.0) scale(1,1.045)" text-anchor="middle">80</text>
<text class="ax" transform="translate(183.7,1524.65) scale(1,1.045)" text-anchor="end">0</text>
<text class="ax" transform="translate(183.7,1118.10) scale(1,1.045)" text-anchor="end">2000</text>
<text class="ax" transform="translate(183.7,711.55) scale(1,1.045)" text-anchor="end">4000</text>
<text class="ax" transform="translate(183.7,305.00) scale(1,1.045)" text-anchor="end">6000</text>
<text class="ttl" x="883.6" y="1690.8" text-anchor="middle">temp_feel</text>
<text class="ttl" transform="translate(64,801.8) rotate(-90)" text-anchor="middle">rides</text>
<text class="ttl" x="1640.1" y="714.6">season</text>
<line x1="1645.0" y1="769.6" x2="1681.8" y2="769.6" stroke="#000000" stroke-width="11.2"/>
<circle cx="1663.2" cy="769.6" r="7.6" fill="#000000"/>
<text class="lg" x="1712" y="785.6">fall</text>
<line x1="1645.0" y1="815.8" x2="1681.8" y2="815.8" stroke="#DE8F0F" stroke-width="11.2"/>
<circle cx="1663.2" cy="815.8" r="7.6" fill="#DE8F0F"/>
<text class="lg" x="1712" y="831.8">spring</text>
<line x1="1645.0" y1="861.9" x2="1681.8" y2="861.9" stroke="#49A3E2" stroke-width="11.2"/>
<circle cx="1663.2" cy="861.9" r="7.6" fill="#49A3E2"/>
<text class="lg" x="1712" y="877.9">summer</text>
<line x1="1645.0" y1="908.0" x2="1681.8" y2="908.0" stroke="#1B8F60" stroke-width="11.2"/>
<circle cx="1663.2" cy="908.0" r="7.6" fill="#1B8F60"/>
<text class="lg" x="1712" y="924.0">winter</text>
</g>
</svg></body></html>
